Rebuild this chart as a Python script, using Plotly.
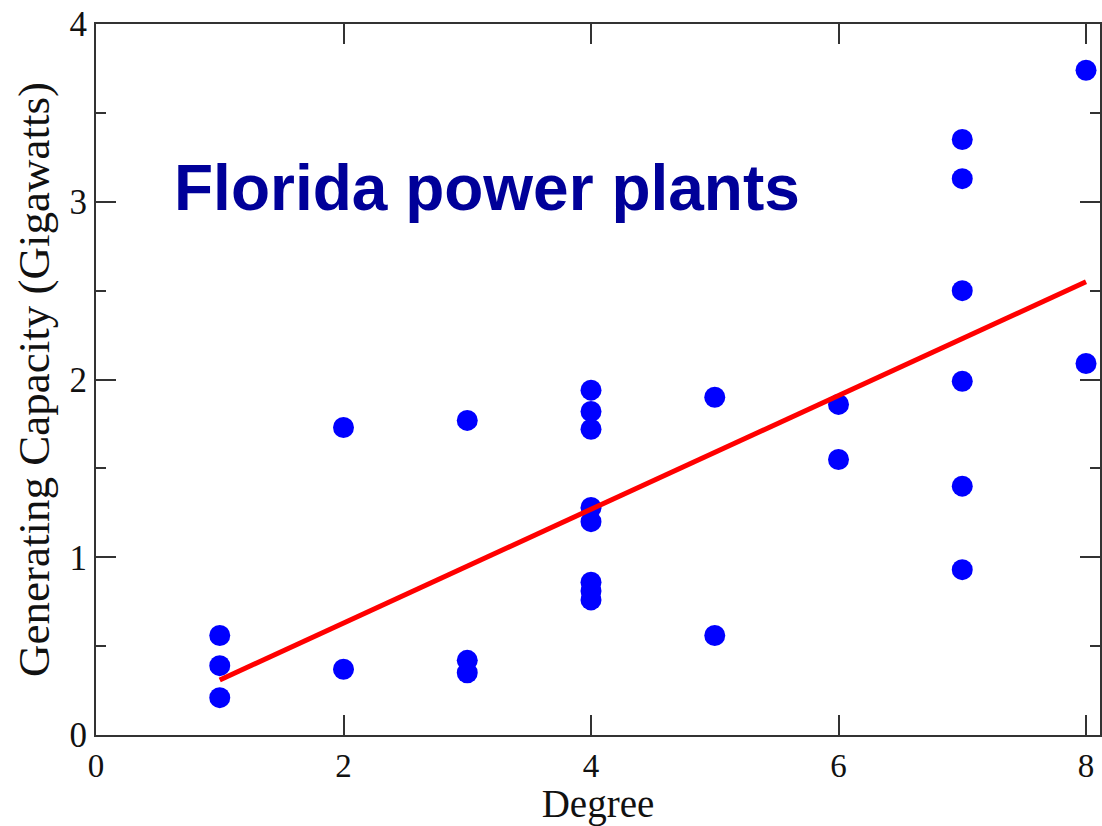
import plotly.graph_objects as go

# Data
degree = [1, 1, 1,
          2, 2,
          3, 3, 3,
          4, 4, 4, 4, 4, 4, 4, 4,
          5, 5,
          6, 6,
          7, 7, 7, 7, 7, 7,
          8, 8]
capacity = [0.56, 0.39, 0.21,
            1.73, 0.37,
            1.77, 0.42, 0.35,
            1.94, 1.82, 1.72, 1.28, 1.20, 0.86, 0.81, 0.76,
            1.90, 0.56,
            1.86, 1.55,
            3.35, 3.13, 2.50, 1.99, 1.40, 0.93,
            3.74, 2.09]

fit_x = [1, 8]
fit_y = [0.31, 2.55]

x_ticks = [0, 2, 4, 6, 8]
y_ticks = [0, 1, 2, 3, 4]

fig = go.Figure()
fig.add_trace(go.Scatter(
    x=degree, y=capacity, mode="markers",
    marker=dict(symbol="circle", size=21, color="#0000FF", line=dict(width=0)),
    showlegend=False, hoverinfo="skip"))
fig.add_trace(go.Scatter(
    x=fit_x, y=fit_y, mode="lines",
    line=dict(color="#FF0000", width=5),
    showlegend=False, hoverinfo="skip"))

serif = "Liberation Serif, Times New Roman, serif"
axis_common = dict(
    showgrid=False, zeroline=False,
    showline=True, linecolor="#333333", linewidth=2, mirror="ticks",
    ticks="inside", ticklen=20, tickwidth=1.5, tickcolor="#333333",
)

fig.update_layout(
    width=1102, height=826,
    margin=dict(l=96, r=0, t=24, b=91),
    paper_bgcolor="white", plot_bgcolor="white",
    xaxis=dict(
        range=[0, 8.113], tickvals=x_ticks, ticktext=[str(v) for v in x_ticks],
        tickfont=dict(family=serif, size=33, color="#111111"),
        title=dict(text="Degree", font=dict(family=serif, size=39, color="#111111"), standoff=0),
        **axis_common),
    yaxis=dict(
        range=[0, 4], tickvals=y_ticks, ticktext=[str(v) for v in y_ticks],
        tickfont=dict(family=serif, size=35, color="#111111"),
        minor=dict(ticks="inside", ticklen=10, tickwidth=1.5, tickcolor="#333333", dtick=0.5, showgrid=False),
        title=dict(text="Generating Capacity (Gigawatts)", font=dict(family=serif, size=45, color="#111111"), standoff=6),
        **axis_common),
    annotations=[dict(
        text="<b>Florida power plants</b>", xref="paper", yref="paper",
        x=(172 - 96) / 1006, y=(735 - 188) / 711, xanchor="left", yanchor="middle",
        showarrow=False,
        font=dict(family="Liberation Sans, Arial, sans-serif", size=64, color="#000099"))],
)

fig.write_html("out.html")
